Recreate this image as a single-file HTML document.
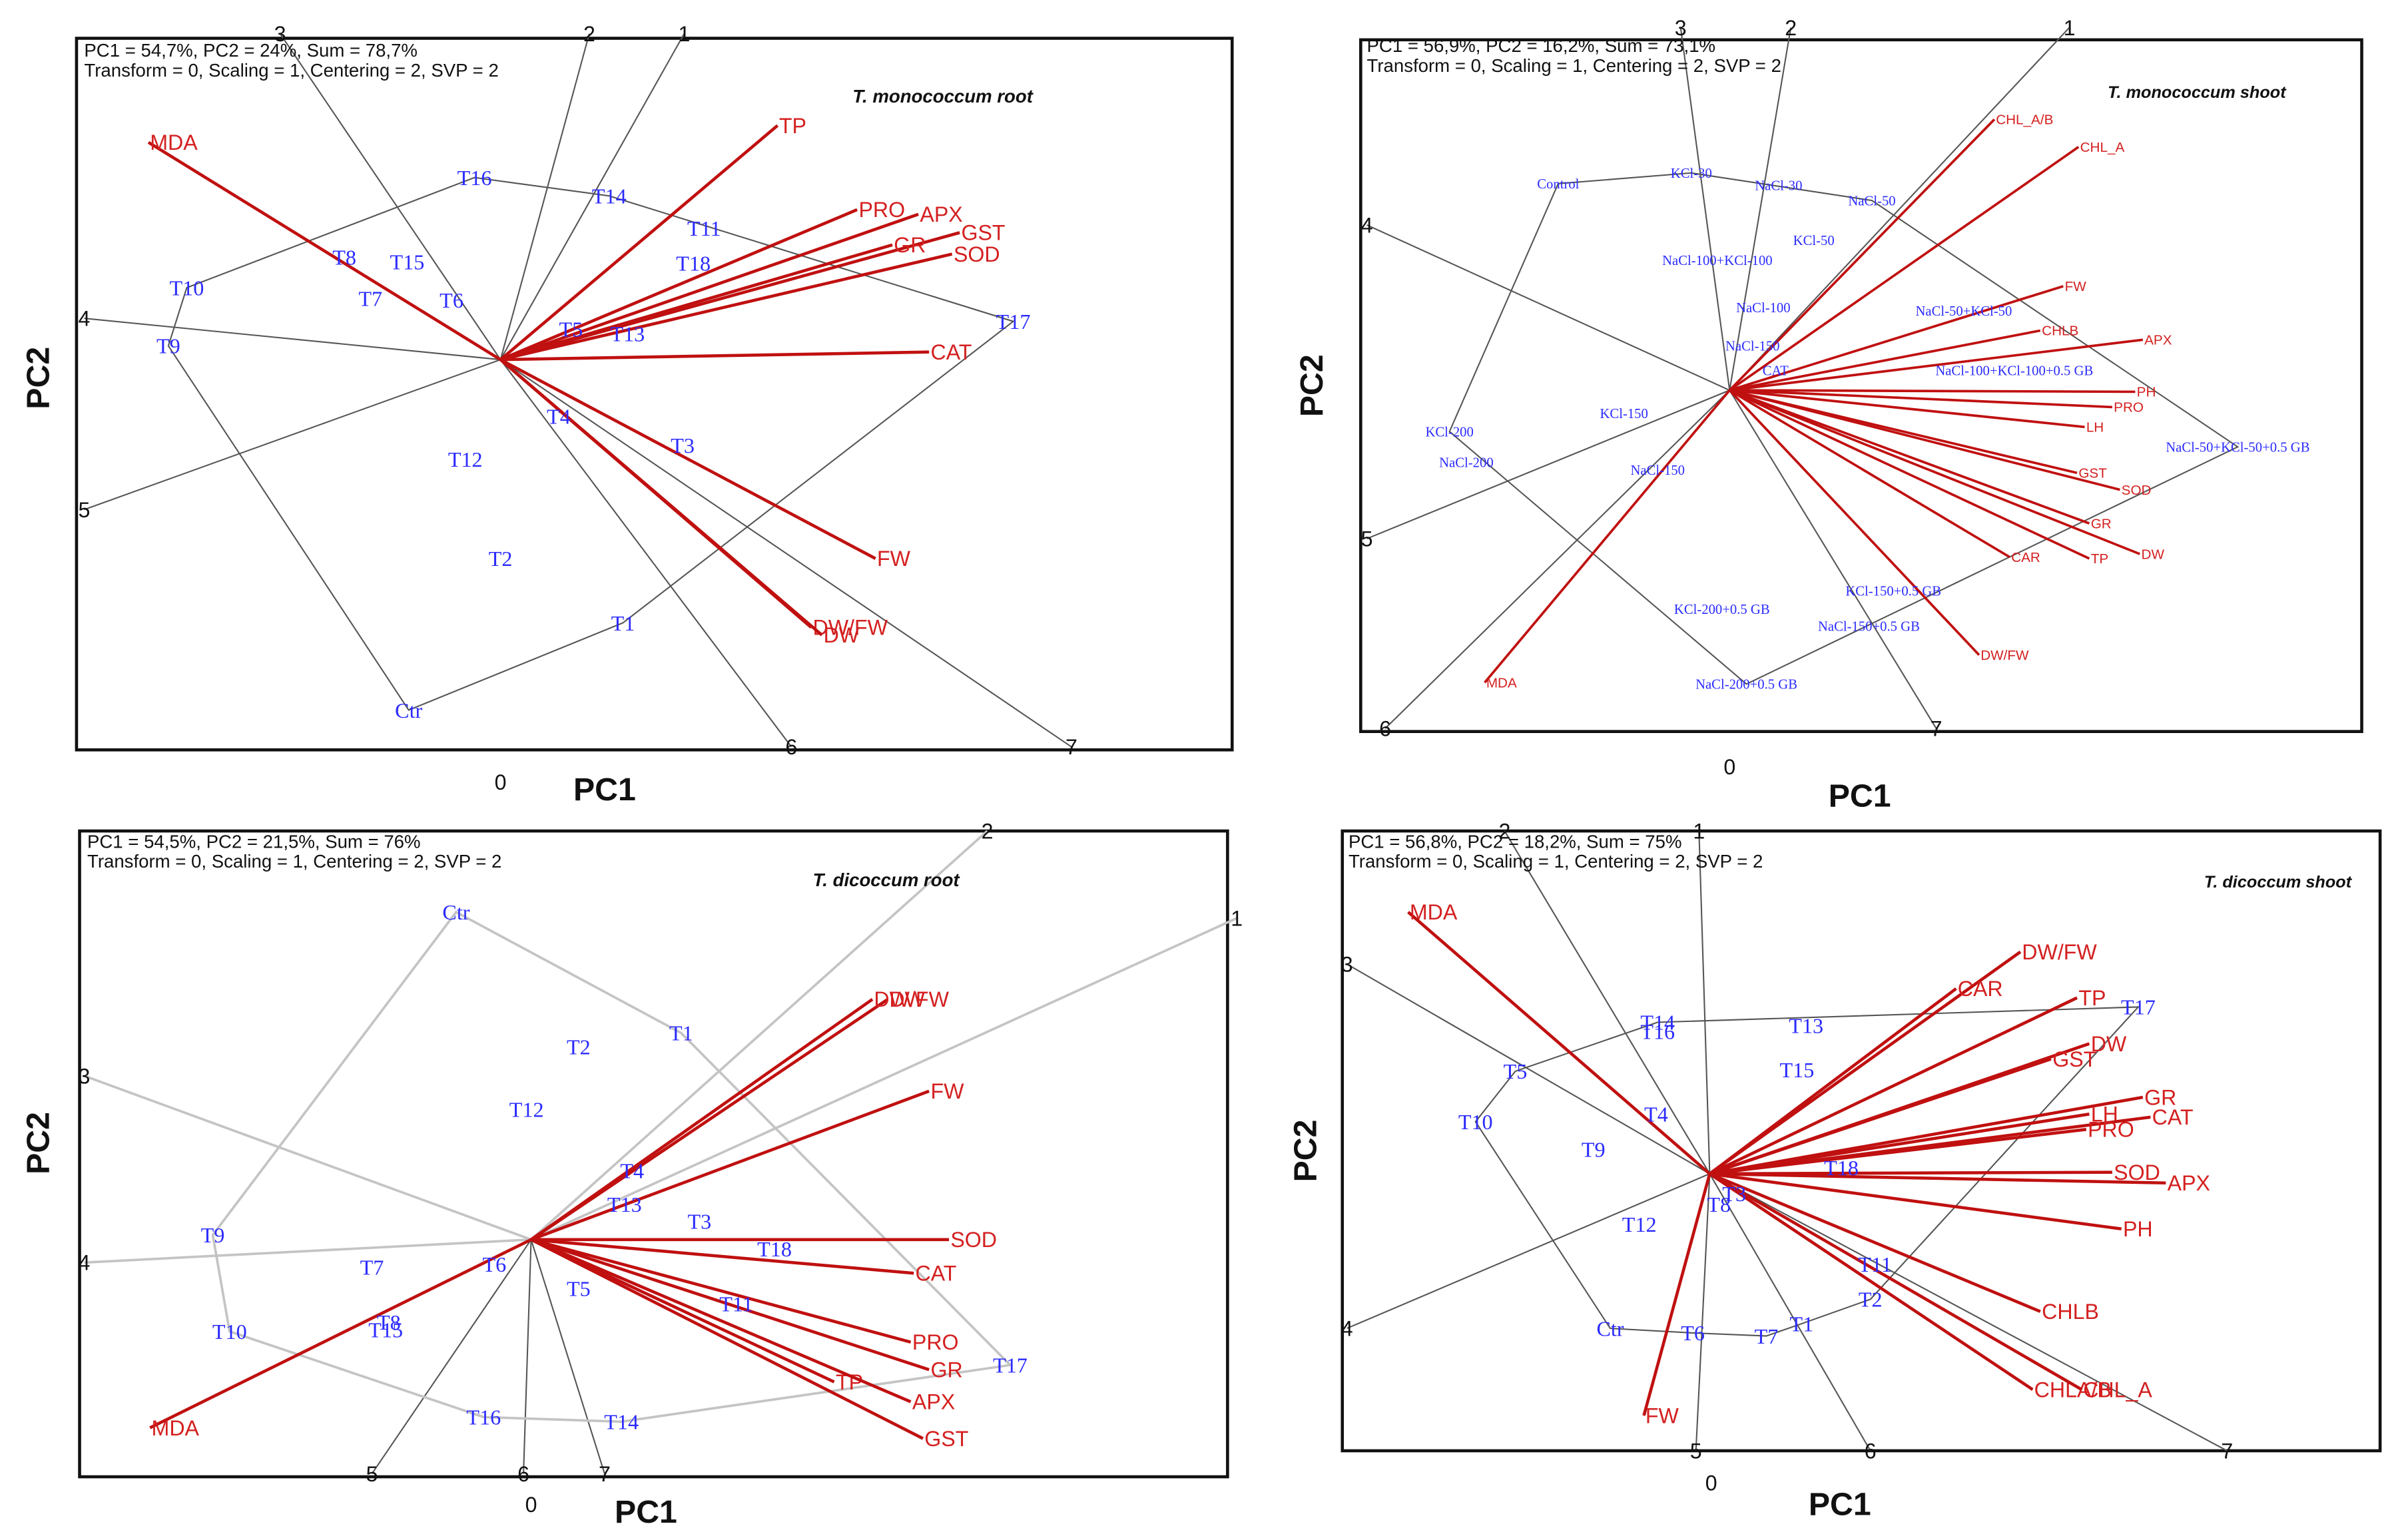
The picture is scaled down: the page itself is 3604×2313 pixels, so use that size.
<!DOCTYPE html>
<html><head><meta charset="utf-8"><style>
html,body{margin:0;padding:0;background:#fff;}
svg{display:block;}
text{font-family:"Liberation Sans",sans-serif;}
.obs{font-family:"Liberation Serif",serif;fill:#2b2bff;}
.var{fill:#d42020;}
</style></head><body>
<svg id="chart" xmlns="http://www.w3.org/2000/svg" width="3604" height="2313" viewBox="0 0 1568 1006.3"></svg>
<script>
// ===== Panel 1: T. monococcum root =====
const p1VarNames=["MDA","TP","PRO","APX","GST","GR","SOD","CAT","FW","DW/FW","DW"];
const p1VarPC1=[-2.30,1.81,2.33,2.73,3.00,2.56,2.95,2.80,2.45,2.03,2.10];
const p1VarPC2=[1.42,1.53,0.98,0.95,0.83,0.75,0.69,0.05,-1.30,-1.75,-1.80];
const p1ObsNames=["T16","T14","T11","T18","T10","T8","T15","T7","T6","T9","T5","T13","T17","T4","T3","T12","T2","T1","Ctr"];
const p1ObsPC1=[-0.17,0.71,1.33,1.26,-2.05,-1.02,-0.61,-0.85,-0.32,-2.17,0.46,0.83,3.35,0.38,1.19,-0.23,0,0.80,-0.60];
const p1ObsPC2=[1.19,1.07,0.86,0.63,0.47,0.67,0.64,0.40,0.39,0.09,0.20,0.17,0.25,-0.37,-0.56,-0.65,-1.30,-1.72,-2.29];
const p1AxNames=["1","2","3","4","5","6","7"];
const p1AxPC1=[1.20,0.58,-1.44,-2.72,-2.72,1.90,3.73];
const p1AxPC2=[2.13,2.13,2.13,0.27,-0.98,-2.53,-2.53];
const p1Hull=["Ctr","T9","T10","T16","T14","T17","T1"];
// ===== Panel 2: T. monococcum shoot =====
const p2VarNames=["CHL_A/B","CHL_A","FW","CHLB","APX","PH","PRO","LH","GST","SOD","GR","DW","TP","CAR","DW/FW","MDA"];
const p2VarPC1=[1.73,2.28,2.18,2.03,2.70,2.65,2.50,2.32,2.27,2.55,2.35,2.68,2.35,1.83,1.63,-1.60];
const p2VarPC2=[1.77,1.59,0.68,0.39,0.33,-0.01,-0.11,-0.24,-0.54,-0.65,-0.87,-1.07,-1.10,-1.09,-1.73,-1.91];
const p2ObsNames=["Control","KCl-30","NaCl-30","NaCl-50","KCl-50","NaCl-100+KCl-100","NaCl-100","NaCl-50+KCl-50","NaCl-150","CAT","NaCl-100+KCl-100+0.5 GB","KCl-150","KCl-200","NaCl-200","NaCl-150 ","NaCl-50+KCl-50+0.5 GB","KCl-150+0.5 GB","KCl-200+0.5 GB","NaCl-150+0.5 GB","NaCl-200+0.5 GB"];
const p2ObsPC1=[-1.12,-0.25,0.32,0.93,0.55,-0.08,0.22,1.53,0.15,0.30,1.86,-0.69,-1.83,-1.72,-0.47,3.32,1.07,-0.05,0.91,0.11];
const p2ObsPC2=[1.35,1.42,1.34,1.24,0.98,0.85,0.54,0.52,0.29,0.13,0.13,-0.15,-0.27,-0.47,-0.52,-0.37,-1.31,-1.43,-1.54,-1.92];
const p2AxNames=["1","2","3","4","5","6","7"];
const p2AxPC1=[2.22,0.40,-0.32,-2.37,-2.37,-2.25,1.35];
const p2AxPC2=[2.37,2.37,2.37,1.08,-0.97,-2.21,-2.21];
const p2Hull=["Control","KCl-30","NaCl-50","NaCl-50+KCl-50+0.5 GB","NaCl-200+0.5 GB","KCl-200"];
// ===== Panel 3: T. dicoccum root =====
const p3VarNames=["DW","DW/FW","FW","SOD","CAT","PRO","GR","TP","APX","GST","MDA"];
const p3VarPC1=[2.33,2.23,2.60,2.73,2.50,2.48,2.60,1.98,2.48,2.56,-2.49];
const p3VarPC2=[1.57,1.57,0.97,0,-0.22,-0.67,-0.85,-0.93,-1.06,-1.30,-1.23];
const p3ObsNames=["Ctr","T1","T2","T12","T4","T13","T3","T18","T9","T7","T6","T5","T11","T10","T8","T15","T17","T16","T14"];
const p3ObsPC1=[-0.49,0.98,0.31,-0.03,0.66,0.61,1.10,1.59,-2.08,-1.04,-0.24,0.31,1.34,-1.97,-0.93,-0.95,3.13,-0.31,0.59];
const p3ObsPC2=[2.14,1.35,1.26,0.85,0.45,0.23,0.12,-0.06,0.03,-0.18,-0.16,-0.32,-0.42,-0.60,-0.54,-0.59,-0.82,-1.16,-1.19];
const p3AxNames=["1","2","3","4","5","6","7"];
const p3AxPC1=[4.61,2.98,-2.92,-2.92,-1.04,-0.05,0.48];
const p3AxPC2=[2.10,2.67,1.07,-0.15,-1.53,-1.53,-1.53];
const p3Hull=["Ctr","T1","T17","T14","T16","T10","T9"];
// ===== Panel 4: T. dicoccum shoot =====
const p4VarNames=["MDA","DW/FW","CAR","TP","DW","GST","GR","LH","CAT","PRO","SOD","APX","PH","CHLB","CHLA/B","CHL_A","FW"];
const p4VarPC1=[-1.97,2.03,1.61,2.40,2.48,2.23,2.83,2.48,2.88,2.46,2.63,2.98,2.69,2.16,2.11,2.43,-0.43];
const p4VarPC2=[1.71,1.45,1.21,1.15,0.85,0.75,0.50,0.39,0.37,0.29,0.01,-0.06,-0.36,-0.90,-1.41,-1.41,-1.58];
const p4ObsNames=["T14","T16","T13","T17","T5","T15","T10","T4","T9","T18","T8","T3","T12","T11","T2","Ctr","T6","T7","T1"];
const p4ObsPC1=[-0.34,-0.34,0.63,2.80,-1.27,0.57,-1.53,-0.35,-0.76,0.86,0.06,0.16,-0.46,1.08,1.05,-0.65,-0.11,0.37,0.60];
const p4ObsPC2=[0.99,0.93,0.97,1.09,0.67,0.68,0.34,0.39,0.16,0.04,-0.20,-0.13,-0.33,-0.59,-0.82,-1.01,-1.04,-1.06,-0.98];
const p4AxNames=["1","2","3","4","5","6","7"];
const p4AxPC1=[-0.07,-1.34,-2.37,-2.37,-0.09,1.05,3.38];
const p4AxPC2=[2.24,2.24,1.37,-1.01,-1.81,-1.81,-1.81];
const p4Hull=["T14","T17","T2","T1","T7","T6","Ctr","T10","T5"];

const NS="http://www.w3.org/2000/svg";
const svg=document.getElementById('chart');
function mk(tag,attrs,parent,txt){const e=document.createElementNS(NS,tag);for(const k in attrs)e.setAttribute(k,attrs[k]);if(txt!==undefined)e.textContent=txt;parent.appendChild(e);return e;}

const panels=[
 {id:"p1",frame:[50,25,805,490],o:[327,235],s:100,hdr:["PC1 = 54,7%, PC2 = 24%, Sum = 78,7%","Transform = 0, Scaling = 1, Centering = 2, SVP = 2"],hdrY:37,hdrX:55,title:"T. monococcum root",tx:557,ty:67,tfs:12,pc2:[25,240],pc1:[395,523],zero:[327,516],
  vn:p1VarNames,v1:p1VarPC1,v2:p1VarPC2,on:p1ObsNames,o1:p1ObsPC1,o2:p1ObsPC2,an:p1AxNames,a1:p1AxPC1,a2:p1AxPC2,hull:p1Hull,fs:14,light:[]},
 {id:"p2",frame:[889,26,1543,478],o:[1130,255],s:100,hdr:["PC1 = 56,9%, PC2 = 16,2%, Sum = 73,1%","Transform = 0, Scaling = 1, Centering = 2, SVP = 2"],hdrY:34,hdrX:893,title:"T. monococcum shoot",tx:1377,ty:64,tfs:11,pc2:[857,245],pc1:[1215,527],zero:[1130,506],
  vn:p2VarNames,v1:p2VarPC1,v2:p2VarPC2,on:p2ObsNames,o1:p2ObsPC1,o2:p2ObsPC2,an:p2AxNames,a1:p2AxPC1,a2:p2AxPC2,hull:p2Hull,fs:9,light:[]},
 {id:"p3",frame:[52,543,802,965],o:[347,810],s:100,hdr:["PC1 = 54,5%, PC2 = 21,5%, Sum = 76%","Transform = 0, Scaling = 1, Centering = 2, SVP = 2"],hdrY:554,hdrX:57,title:"T. dicoccum root",tx:531,ty:579,tfs:12,pc2:[25,740],pc1:[422,995],zero:[347,988],
  vn:p3VarNames,v1:p3VarPC1,v2:p3VarPC2,on:p3ObsNames,o1:p3ObsPC1,o2:p3ObsPC2,an:p3AxNames,a1:p3AxPC1,a2:p3AxPC2,hull:p3Hull,fs:14,light:[0,1,2,3],lightHull:true},
 {id:"p4",frame:[877,543,1555,948],o:[1117,767],s:100,hdr:["PC1 = 56,8%, PC2 = 18,2%, Sum = 75%","Transform = 0, Scaling = 1, Centering = 2, SVP = 2"],hdrY:554,hdrX:881,title:"T. dicoccum shoot",tx:1440,ty:580,tfs:11,pc2:[853,745],pc1:[1202,990],zero:[1118,974],
  vn:p4VarNames,v1:p4VarPC1,v2:p4VarPC2,on:p4ObsNames,o1:p4ObsPC1,o2:p4ObsPC2,an:p4AxNames,a1:p4AxPC1,a2:p4AxPC2,hull:p4Hull,fs:14,light:[]}
];

panels.forEach(P=>{
 const g=mk('g',{},svg);
 
 
 const X=v=>P.o[0]+v*P.s, Y=v=>P.o[1]-v*P.s;
 const fr=mk('rect',{x:P.frame[0],y:P.frame[1],width:P.frame[2]-P.frame[0],height:P.frame[3]-P.frame[1],fill:'none',stroke:'#111','stroke-width':2},g);
 
 
 // axis rays
 P.an.forEach((n,i)=>{
  const col=P.light.includes(i)?'#c4c4c4':'#555';
  const l=mk('line',{x1:P.o[0],y1:P.o[1],x2:X(P.a1[i]),y2:Y(P.a2[i]),stroke:col,'stroke-width':P.light.includes(i)?1.6:0.9},g);
  
  
  const t=mk('text',{x:X(P.a1[i]),y:Y(P.a2[i])+5,'font-size':14,'text-anchor':'middle',fill:'#111'},g,n);
  
  
 });
 // hull
 const pts=P.hull.map(n=>{const i=P.on.indexOf(n);return X(P.o1[i])+','+Y(P.o2[i]);}).join(' ');
 const h=mk('polygon',{points:pts,fill:'none',stroke:P.lightHull?'#c4c4c4':'#555','stroke-width':P.lightHull?1.6:0.9},g);
 
 
 // variable vectors
 P.vn.forEach((n,i)=>{
  const l=mk('line',{x1:P.o[0],y1:P.o[1],x2:X(P.v1[i]),y2:Y(P.v2[i]),stroke:'#c01010','stroke-width':P.fs>10?2:1.6},g);
  
  
  const t=mk('text',{x:X(P.v1[i])+1,y:Y(P.v2[i])+P.fs*0.35,'font-size':P.fs,'class':'var'},g,n);
  
  
 });
 // observations
 P.on.forEach((n,i)=>{
  const t=mk('text',{x:X(P.o1[i]),y:Y(P.o2[i])+P.fs*0.35,'font-size':P.fs,'text-anchor':'middle','class':'obs'},g,n);
  
  
 });
 // header
 P.hdr.forEach((s,k)=>{
  const t=mk('text',{x:P.hdrX,y:P.hdrY+k*13,'font-size':12,fill:'#111'},g,s);
  
  
 });
 const tt=mk('text',{x:P.tx,y:P.ty,'font-size':P.tfs,'font-style':'italic','font-weight':'bold',fill:'#111'},g,P.title);
 
 
 const x1=mk('text',{x:P.pc1[0],y:P.pc1[1],'font-size':21,'font-weight':'bold','text-anchor':'middle',fill:'#111'},g,'PC1');
 
 
 const y2=mk('text',{x:P.pc2[0],y:P.pc2[1],'font-size':21,'font-weight':'bold','text-anchor':'middle',fill:'#111',transform:'rotate(-90 '+(P.pc2[0]+7)+' '+P.pc2[1]+')'},g,'PC2');
 
 
 const z=mk('text',{x:P.zero[0],y:P.zero[1],'font-size':14,'text-anchor':'middle',fill:'#111'},g,'0');
 
 
});
</script>
</body></html>
